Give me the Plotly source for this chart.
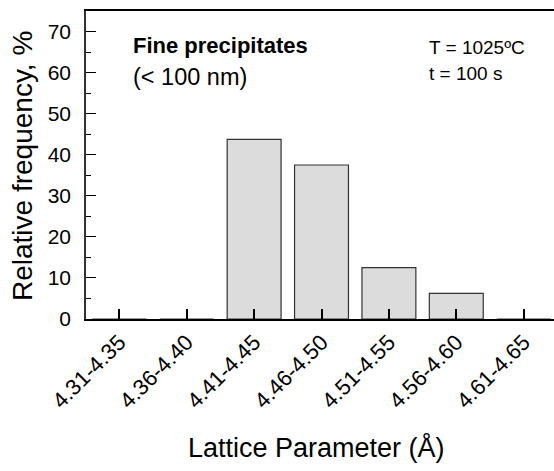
import plotly.graph_objects as go

categories = ["4.31-4.35", "4.36-4.40", "4.41-4.45", "4.46-4.50", "4.51-4.55", "4.56-4.60", "4.61-4.65"]
frequency = [0, 0, 43.75, 37.5, 12.5, 6.25, 0]
y_ticks = [0, 10, 20, 30, 40, 50, 60, 70]

fig = go.Figure()
fig.add_trace(go.Bar(
    x=categories, y=frequency, width=0.8,
    marker=dict(color="#dcdcdc", line=dict(color="#333333", width=1.2)),
))

font = "Arial, Liberation Sans, sans-serif"
fig.update_layout(
    width=554, height=471,
    margin=dict(l=86, r=0, t=11, b=152),
    plot_bgcolor="white", paper_bgcolor="white",
    showlegend=False,
    font=dict(family=font, color="black"),
    xaxis=dict(
        type="category", range=[-0.495, 6.45],
        showline=True, linecolor="black", linewidth=1.5, mirror=True,
        ticks="inside", ticklen=10, tickcolor="black", tickwidth=1.5,
        tickangle=-45, tickfont=dict(size=22),
        showgrid=False, zeroline=False,
    ),
    yaxis=dict(
        range=[0, 75], tickvals=y_ticks,
        showline=True, linecolor="#333333", linewidth=1.5,
        ticks="inside", ticklen=10, tickcolor="black", tickwidth=1.2,
        minor=dict(ticks="inside", ticklen=5, dtick=5, tickcolor="black", tickwidth=1.2),
        tickfont=dict(size=21), ticklabelstandoff=9,
        showgrid=False, zeroline=False,
    ),
)

# axis titles
fig.add_annotation(x=(316 - 86) / 468, y=(319 - 447) / 308, xref="paper", yref="paper",
                   xanchor="center", yanchor="middle", text="Lattice Parameter (Å)",
                   showarrow=False, font=dict(size=27))
fig.add_annotation(x=(22 - 86) / 468, y=(319 - 166) / 308, xref="paper", yref="paper",
                   xanchor="center", yanchor="middle", textangle=-90,
                   text="Relative frequency, %", showarrow=False, font=dict(size=28))

fig.add_annotation(x=0.174, y=66.7, xref="x", yref="y", xanchor="left", yanchor="middle",
                   text="<b>Fine precipitates</b>", showarrow=False, font=dict(size=22))
fig.add_annotation(x=0.174, y=58.9, xref="x", yref="y", xanchor="left", yanchor="middle",
                   text="(< 100 nm)", showarrow=False, font=dict(size=23.5))
fig.add_annotation(x=4.57, y=66.0, xref="x", yref="y", xanchor="left", yanchor="middle",
                   text="T = 1025ºC", showarrow=False, font=dict(size=19))
fig.add_annotation(x=4.57, y=59.8, xref="x", yref="y", xanchor="left", yanchor="middle",
                   text="t = 100 s", showarrow=False, font=dict(size=19))

fig.write_html("out.html")
